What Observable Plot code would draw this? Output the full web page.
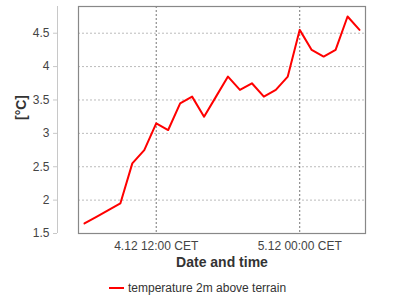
<!DOCTYPE html>
<html>
<head>
<meta charset="utf-8">
<script src="https://cdn.jsdelivr.net/npm/d3@7"></script>
<script src="https://cdn.jsdelivr.net/npm/@observablehq/plot@0.6"></script>
<style>
  body { margin: 0; background: #fff; font-family: "Liberation Sans", Arial, sans-serif; }
  #legend { height: 25px; display: flex; align-items: center; padding-left: 109px; font-size: 12px; color: #333; }
  #legend .sw { width: 15px; height: 2px; background: #ff0000; margin-right: 4px; }
</style>
</head>
<body>
<div id="chart"></div>
<div id="legend"><span class="sw"></span><span>temperature 2m above terrain</span></div>
<script>
const timestamps = [
  "2024-12-04T06:00Z","2024-12-04T07:00Z","2024-12-04T08:00Z","2024-12-04T09:00Z",
  "2024-12-04T10:00Z","2024-12-04T11:00Z","2024-12-04T12:00Z","2024-12-04T13:00Z",
  "2024-12-04T14:00Z","2024-12-04T15:00Z","2024-12-04T16:00Z","2024-12-04T17:00Z",
  "2024-12-04T18:00Z","2024-12-04T19:00Z","2024-12-04T20:00Z","2024-12-04T21:00Z",
  "2024-12-04T22:00Z","2024-12-04T23:00Z","2024-12-05T00:00Z","2024-12-05T01:00Z",
  "2024-12-05T02:00Z","2024-12-05T03:00Z","2024-12-05T04:00Z","2024-12-05T05:00Z"
];
const temperatures = [1.65, 1.75, 1.85, 1.95, 2.55, 2.75, 3.15, 3.05, 3.45, 3.55, 3.25, 3.55,
                      3.85, 3.65, 3.75, 3.55, 3.65, 3.85, 4.55, 4.25, 4.15, 4.25, 4.75, 4.55];
const xDomain = ["2024-12-04T05:30Z", "2024-12-05T05:30Z"];
const xTicks = ["2024-12-04T12:00Z", "2024-12-05T00:00Z"];
const xTickLabels = ["4.12 12:00 CET", "5.12 00:00 CET"];
const yDomain = [1.5, 4.9];
const yTicks = [1.5, 2, 2.5, 3, 3.5, 4, 4.5];
const yLabel = "[°C]";
const xLabel = "Date and time";

const data = timestamps.map((t, i) => ({time: new Date(t), value: temperatures[i]}));
const xTickDates = xTicks.map(t => new Date(t));
const labelFor = d => xTickLabels[xTickDates.findIndex(t => +t === +d)];
const x0 = new Date(xDomain[0]);

const chart = Plot.plot({
  width: 400,
  height: 275,
  marginLeft: 78,
  marginRight: 35,
  marginTop: 6,
  marginBottom: 42,
  style: {fontFamily: "'Liberation Sans', Arial, sans-serif", fontSize: "12px", color: "#444", background: "#fff"},
  x: {type: "utc", domain: xDomain.map(d => new Date(d))},
  y: {domain: yDomain},
  marks: [
    Plot.gridY(yTicks, {stroke: "#bbb", strokeOpacity: 1, strokeDasharray: "2,2"}),
    Plot.gridX(xTickDates, {stroke: "#777", strokeOpacity: 1, strokeDasharray: "2,2"}),
    Plot.frame({stroke: "#888", strokeWidth: 1.2}),
    Plot.ruleX([x0], {dx: -21, stroke: "#c8c8c8"}),
    Plot.axisY({ticks: yTicks, tickFormat: d => String(d), tickSize: 4, tickPadding: 4, dx: -21, stroke: "#c8c8c8", fill: "#444", fontSize: 12, label: null}),
    Plot.axisX({ticks: xTickDates, tickFormat: labelFor, tickSize: 0, tickPadding: 8, fill: "#444", fontSize: 12, label: null}),
    Plot.text([xLabel], {frameAnchor: "bottom", dy: 33, fontWeight: "bold", fontSize: 14, fill: "#333"}),
    Plot.text([yLabel], {frameAnchor: "left", dx: -57, rotate: -90, fontWeight: "bold", fontSize: 14, fill: "#333"}),
    Plot.line(data, {x: "time", y: "value", stroke: "#ff0000", strokeWidth: 2})
  ]
});
document.getElementById("chart").appendChild(chart);
</script>
</body>
</html>
